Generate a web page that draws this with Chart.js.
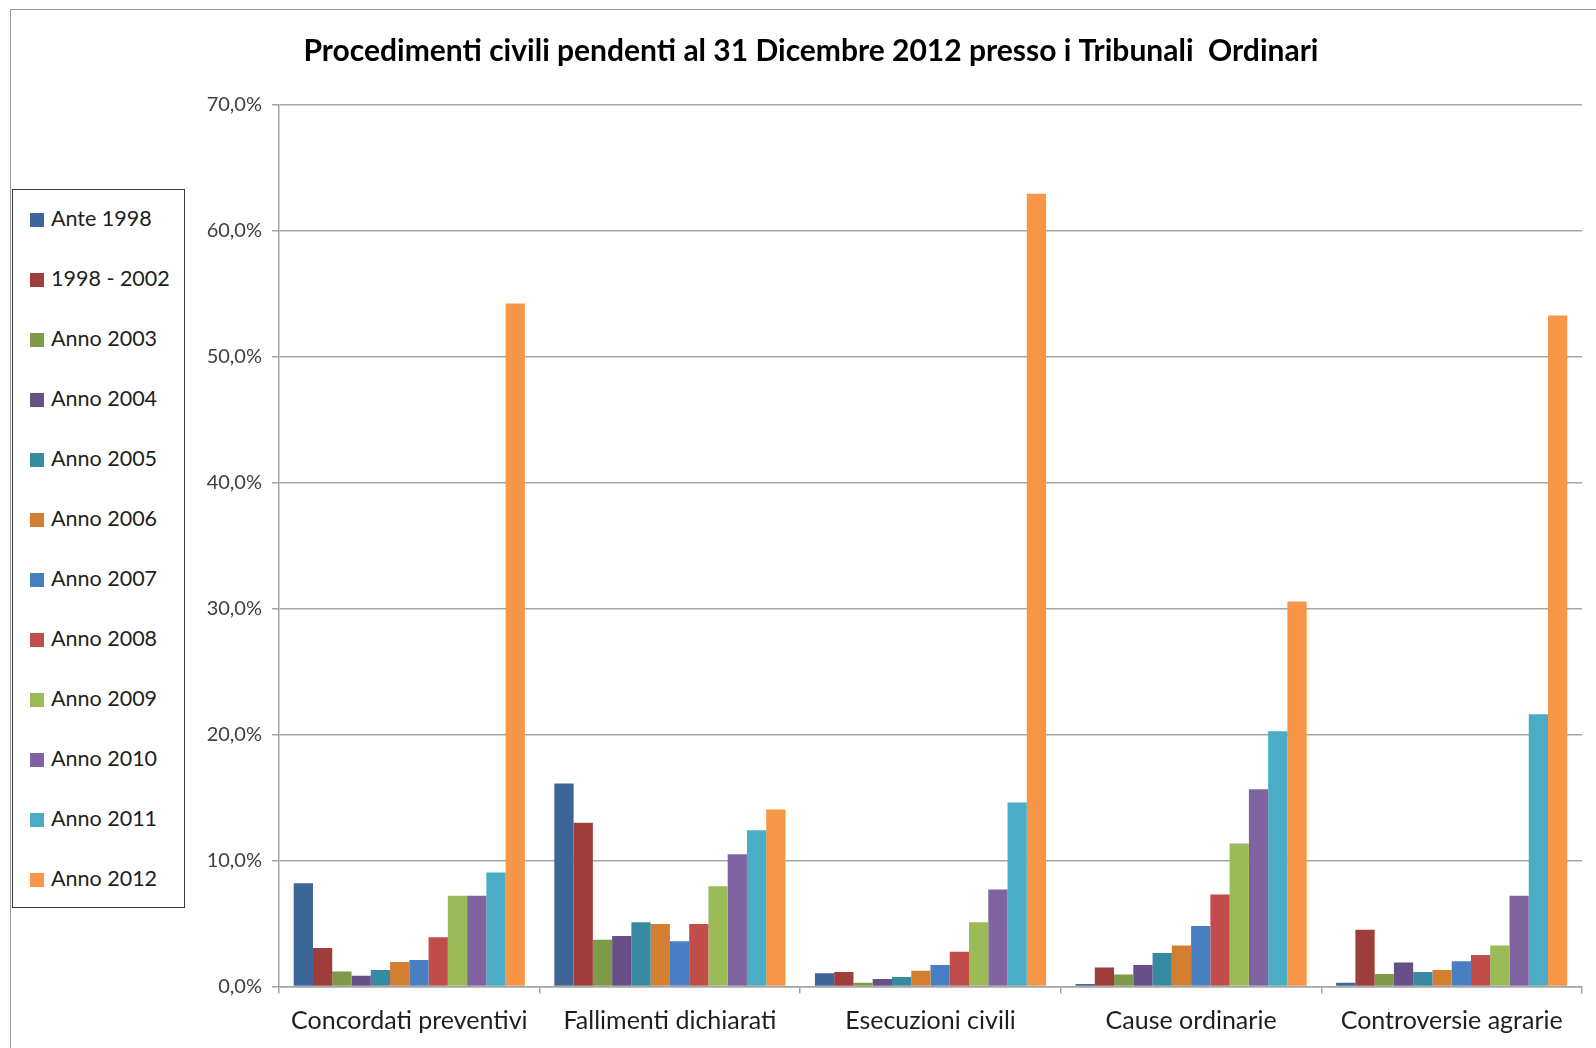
<!DOCTYPE html>
<html>
<head>
<meta charset="utf-8">
<script src="https://cdn.jsdelivr.net/npm/chart.js@4"></script>
<style>
  body { margin: 0; background: #fff; }
  #wrap { position: relative; width: 1596px; height: 1048px; overflow: hidden; }
  #frame { position: absolute; left: 10px; top: 9px; width: 1620px; height: 1100px;
           border-left: 1.5px solid #9a9a9a; border-top: 1.5px solid #9a9a9a; }
  #legend { position: absolute; left: 12px; top: 189px; width: 171px; height: 717px;
            border: 1.5px solid #3a3a3a; background: #fff;
            font-family: Lato, sans-serif; font-size: 21.5px; color: #1e1e1e; }
  .item { position: absolute; left: 17px; height: 26px; line-height: 26px; white-space: nowrap; }
  .item span.box { display: inline-block; width: 14px; height: 14px; margin-right: 7px; vertical-align: -1px; }
</style>
</head>
<body>
<div id="wrap">
  <div id="frame"></div>
  <canvas id="chart" width="1596" height="1048"></canvas>
  <div id="legend"></div>
</div>
<script>
// Categories (x axis)
const categories = ['Concordati preventivi', 'Fallimenti dichiarati', 'Esecuzioni civili', 'Cause ordinarie', 'Controversie agrarie'];

// Series values in %, one array per period, in category order
const ante1998 = [8.2, 16.1, 1.05, 0.2, 0.3];
const y1998_2002 = [3.05, 13.0, 1.15, 1.5, 4.5];
const y2003 = [1.2, 3.7, 0.3, 0.95, 1.0];
const y2004 = [0.85, 4.0, 0.6, 1.7, 1.9];
const y2005 = [1.3, 5.1, 0.75, 2.65, 1.15];
const y2006 = [1.95, 4.95, 1.25, 3.25, 1.3];
const y2007 = [2.1, 3.6, 1.7, 4.8, 2.0];
const y2008 = [3.9, 4.95, 2.75, 7.3, 2.5];
const y2009 = [7.2, 7.95, 5.1, 11.35, 3.25];
const y2010 = [7.2, 10.5, 7.7, 15.65, 7.2];
const y2011 = [9.05, 12.4, 14.6, 20.25, 21.6];
const y2012 = [54.2, 14.05, 62.9, 30.55, 53.25];

const seriesLabels = ['Ante 1998', '1998 - 2002', 'Anno 2003', 'Anno 2004', 'Anno 2005', 'Anno 2006',
                      'Anno 2007', 'Anno 2008', 'Anno 2009', 'Anno 2010', 'Anno 2011', 'Anno 2012'];
const seriesData = [ante1998, y1998_2002, y2003, y2004, y2005, y2006, y2007, y2008, y2009, y2010, y2011, y2012];
const seriesColors = ['#3e6597', '#9e3d3a', '#7e9a48', '#684f88', '#368ba2', '#d47e32',
                      '#4a7ec2', '#c24e4c', '#9bbb59', '#8064a2', '#4bacc6', '#f79646'];

// Y axis ticks
const yMin = 0;
const yMax = 70;
const yStep = 10;

const fmtPct = v => v.toFixed(1).replace('.', ',') + '%';

const datasets = seriesLabels.map((label, i) => ({
    label: label,
    data: seriesData[i],
    backgroundColor: seriesColors[i],
    borderWidth: 0,
    categoryPercentage: 0.887,
    barPercentage: 1.0
}));

const ctx = document.getElementById('chart').getContext('2d');
const chart = new Chart(ctx, {
    type: 'bar',
    data: { labels: categories, datasets: datasets },
    options: {
        responsive: false,
        animation: false,
        layout: { padding: { left: 40, right: 14, top: 0, bottom: 0 } },
        plugins: {
            legend: { display: false },
            tooltip: { enabled: false },
            title: {
                display: true,
                text: 'Procedimenti civili pendenti al 31 Dicembre 2012 presso i Tribunali  Ordinari',
                color: '#000',
                font: { family: 'Lato', size: 30, weight: 'bold' },
                padding: { top: 33, bottom: 35.3 }
            }
        },
        scales: {
            x: {
                grid: { drawOnChartArea: false, tickLength: 7, color: '#a5a5a5', lineWidth: 1.5, offset: true },
                border: { color: '#a5a5a5', width: 1.5 },
                ticks: { color: '#1e1e1e', padding: 12.5, font: { family: 'Lato', size: 25 }, maxRotation: 0 },
                afterFit: scale => { scale.height = 61.5; }
            },
            y: {
                min: yMin,
                max: yMax,
                ticks: { stepSize: yStep, padding: 10, color: '#404040',
                         font: { family: 'Lato', size: 20 }, callback: v => fmtPct(v) },
                grid: { color: '#a5a5a5', lineWidth: 1.5, tickLength: 7 },
                border: { color: '#a5a5a5', width: 1.5 },
                afterFit: scale => { scale.width = 239; }
            }
        }
    }
});

// Legend built from the chart's datasets
const legend = document.getElementById('legend');
chart.data.datasets.forEach((ds, i) => {
    const item = document.createElement('div');
    item.className = 'item';
    item.style.top = (216.8 - 189 - 13 + i * 60) + 'px';
    item.innerHTML = '<span class="box" style="background:' + ds.backgroundColor + '"></span>' + ds.label;
    legend.appendChild(item);
});
</script>
</body>
</html>
